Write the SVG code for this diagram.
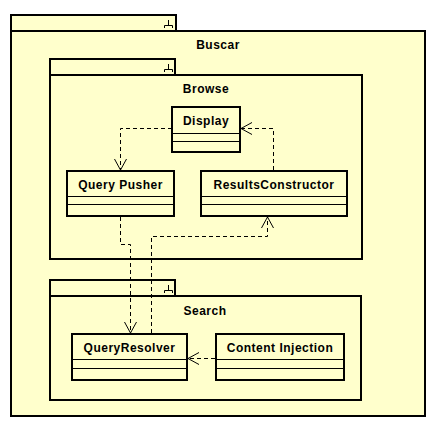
<svg xmlns="http://www.w3.org/2000/svg" width="434" height="428" viewBox="0 0 434 428">
<style>
.pkg{fill:#FFFFCC;stroke:#000;stroke-width:2}
.cls{fill:#FFFFCC;stroke:#000;stroke-width:2}
.sep{stroke:#000;stroke-width:1}
.icon{fill:none;stroke:#000;stroke-width:1}
.t{font-family:"Liberation Sans",Arial,sans-serif;font-size:12px;font-weight:bold;fill:#000;text-anchor:middle;letter-spacing:0.5px}
.dep{fill:none;stroke:#000;stroke-width:1;stroke-dasharray:4 3;marker-end:url(#open)}
</style>
<defs>
<marker id="open" markerUnits="userSpaceOnUse" markerWidth="14" markerHeight="14" viewBox="-12 -7 14 14" refX="0" refY="0" orient="auto">
<path d="M-11,-6 L0,0 L-11,6" fill="none" stroke="#000" stroke-width="1"/>
</marker>
</defs>
<rect width="434" height="428" fill="#fff"/>
<g id="Buscar">
<rect class="pkg" x="11" y="15" width="165" height="16"/>
<rect class="pkg" x="11" y="31" width="414" height="385"/>
<path class="icon" d="M168.5,20 V25.5 M164.5,28 V25.5 H172.5 V28"/>
<text class="t" x="218" y="49">Buscar</text>
</g>
<g id="Browse">
<rect class="pkg" x="50" y="59" width="125" height="16"/>
<rect class="pkg" x="50" y="75" width="312" height="184"/>
<path class="icon" d="M168.5,64 V69.5 M164.5,72 V69.5 H172.5 V72"/>
<text class="t" x="206" y="93">Browse</text>
</g>
<g id="Search">
<rect class="pkg" x="50" y="280" width="125" height="16"/>
<rect class="pkg" x="50" y="296" width="311" height="104"/>
<path class="icon" d="M168.5,285 V290.5 M164.5,293 V290.5 H172.5 V293"/>
<text class="t" x="205" y="315">Search</text>
</g>
<g id="Display">
<rect class="cls" x="172" y="107" width="68" height="45"/>
<path class="sep" d="M172,133.5 H240 M172,141.5 H240"/>
<text class="t" x="206" y="125">Display</text>
</g>
<g id="QueryPusher">
<rect class="cls" x="67" y="171" width="107" height="45"/>
<path class="sep" d="M67,196.5 H174 M67,204.5 H174"/>
<text class="t" x="120.5" y="189">Query Pusher</text>
</g>
<g id="ResultsConstructor">
<rect class="cls" x="201" y="171" width="146" height="45"/>
<path class="sep" d="M201,196.5 H347 M201,204.5 H347"/>
<text class="t" x="274" y="189">ResultsConstructor</text>
</g>
<g id="QueryResolver">
<rect class="cls" x="72" y="334" width="115" height="46"/>
<path class="sep" d="M72,359.5 H187 M72,368.5 H187"/>
<text class="t" x="129.5" y="352">QueryResolver</text>
</g>
<g id="ContentInjection">
<rect class="cls" x="216" y="334" width="128" height="46"/>
<path class="sep" d="M216,359.5 H344 M216,368.5 H344"/>
<text class="t" x="280" y="352">Content Injection</text>
</g>
<g id="connectors">
<path class="dep" d="M172,128.5 H120.5 V170"/>
<path class="dep" d="M273.5,170 V128.5 H241"/>
<path class="dep" d="M120.5,217 V244.5 H130.5 V333"/>
<path class="dep" d="M151.5,333 V236.5 H267.5 V217"/>
<path class="dep" d="M215,358.5 H188"/>
</g>
</svg>
